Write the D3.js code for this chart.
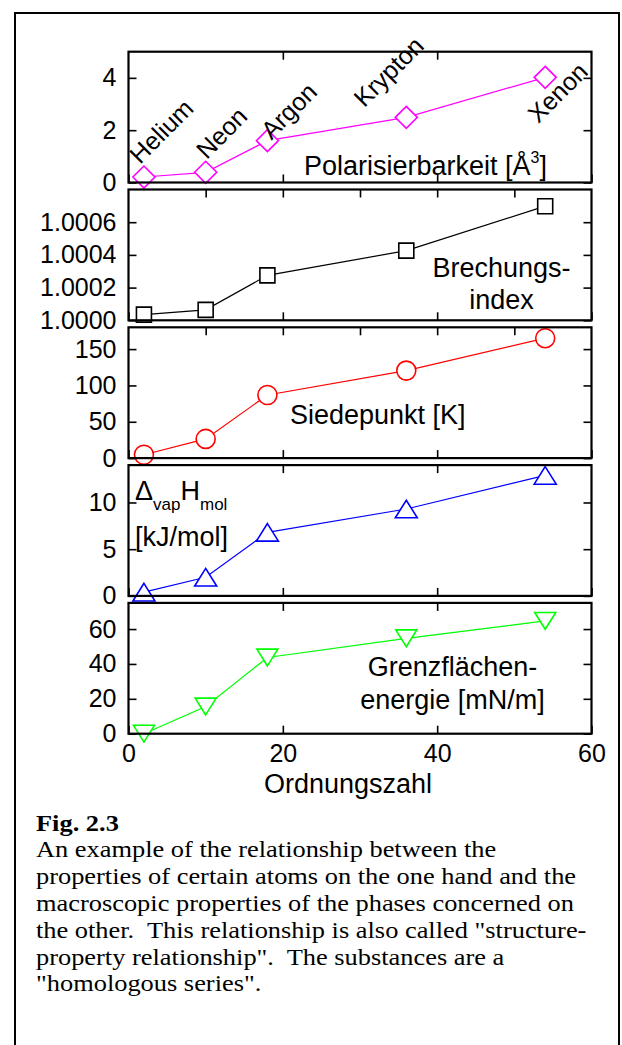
<!DOCTYPE html>
<html>
<head>
<meta charset="utf-8">
<script src="https://cdn.jsdelivr.net/npm/d3@7"></script>
<style>
  body { margin: 0; background: #fff; }
  svg text { font-family: "Liberation Sans", Arial, sans-serif; }
  .tick text { font-size: 25px; fill: #000; }
  .tick line { stroke: #000; stroke-width: 1.6px; }
  .caption { font-family: "Liberation Serif", "Times New Roman", serif !important; font-size: 24px; }
</style>
</head>
<body>
<div id="chart"></div>
<script>

/* noble gases vs. atomic number, five stacked panels */

// data

var elements = ["Helium", "Neon", "Argon", "Krypton", "Xenon"];
var ordnungszahl = [2, 10, 18, 36, 54];
var polarisierbarkeit = [0.21, 0.39, 1.6, 2.49, 4.02];
var brechungsindex = [1.000035, 1.000064, 1.000275, 1.000426, 1.000698];
var siedepunkt = [4.6, 26.4, 86.8, 120.4, 165];
var verdampfung = [0.4, 2.0, 6.8, 9.3, 12.9];
var grenzflaeche = [0, 15.6, 43.7, 54.7, 64.7];

var xTicks = [0, 20, 40, 60];

// layout

var width = 622,
    height = 1045,
    marginLeft = 128.5,
    plotRight = 591.5,
    firstTop = 51.7,
    panelHeight = 130.8,
    panelStep = 137.8,
    tickLen = 8;

var svg = d3.select("#chart")
  .append("svg")
    .attr("width", width)
    .attr("height", height);

// outer frame (open below the picture edge)

svg.append("rect")
  .attr("x", 15)
  .attr("y", 13)
  .attr("width", 604)
  .attr("height", 1100)
  .attr("fill", "none")
  .attr("stroke", "#000")
  .attr("stroke-width", 2);

var xScale = d3.scaleLinear().domain([0, 60]).range([marginLeft, plotRight]);

// marker shapes

function diamond(s) { return "M0," + (-s) + "L" + s + ",0L0," + s + "L" + (-s) + ",0Z"; }
function square(s) { return "M" + (-s) + "," + (-s) + "h" + (2 * s) + "v" + (2 * s) + "h" + (-2 * s) + "Z"; }
function circle(s) { return "M" + s + ",0A" + s + "," + s + " 0 1,1 " + (-s) + ",0A" + s + "," + s + " 0 1,1 " + s + ",0Z"; }
function triUp(s) { return "M0," + (-s * 0.8) + "L" + s + "," + (s * 0.8) + "L" + (-s) + "," + (s * 0.8) + "Z"; }
function triDown(s) { return "M0," + (s * 0.8) + "L" + s + "," + (-s * 0.8) + "L" + (-s) + "," + (-s * 0.8) + "Z"; }

var panels = [
  { values: polarisierbarkeit, domain: [0, 5], ticks: [0, 2, 4], fmt: d3.format("d"),
    color: "#ff00ff", shape: diamond, size: 11, topTicks: [20, 40] },
  { values: brechungsindex, domain: [1, 1.0008], ticks: [1, 1.0002, 1.0004, 1.0006], fmt: d3.format(".4f"),
    color: "#000000", shape: square, size: 7.5, topTicks: [10, 20, 30, 40, 50] },
  { values: siedepunkt, domain: [0, 180], ticks: [0, 50, 100, 150], fmt: d3.format("d"),
    color: "#ff0000", shape: circle, size: 9.5, topTicks: [10, 20, 30, 40, 50] },
  { values: verdampfung, domain: [0, 14], ticks: [0, 5, 10], fmt: d3.format("d"),
    color: "#0000ff", shape: triUp, size: 11, topTicks: [20, 40] },
  { values: grenzflaeche, domain: [0, 75], ticks: [0, 20, 40, 60], fmt: d3.format("d"),
    color: "#00ff00", shape: triDown, size: 10.5, topTicks: [20, 40] }
];

panels.forEach(function(p, i) {

  var top = firstTop + i * panelStep,
      bottom = top + panelHeight;

  var yScale = d3.scaleLinear().domain(p.domain).range([bottom, top]);
  p.yScale = yScale;

  var g = svg.append("g").attr("class", "panel");

  // white box

  g.append("rect")
    .attr("x", marginLeft)
    .attr("y", top)
    .attr("width", plotRight - marginLeft)
    .attr("height", panelHeight)
    .attr("fill", "#fff");

  // axes, ticks pointing inward

  g.append("g")
    .attr("transform", "translate(" + marginLeft + ",0)")
    .call(d3.axisLeft(yScale).tickValues(p.ticks).tickFormat(p.fmt).tickSize(-tickLen).tickPadding(12))
    .call(function(a) { a.select(".domain").remove(); });

  g.append("g")
    .attr("transform", "translate(" + plotRight + ",0)")
    .call(d3.axisRight(yScale).tickValues(p.ticks).tickFormat("").tickSize(-tickLen))
    .call(function(a) { a.select(".domain").remove(); });

  g.append("g")
    .attr("transform", "translate(0," + top + ")")
    .call(d3.axisTop(xScale).tickValues(p.topTicks).tickFormat("").tickSize(-tickLen))
    .call(function(a) { a.select(".domain").remove(); });

  var xAxis = d3.axisBottom(xScale).tickValues(xTicks).tickSize(-tickLen).tickPadding(11);
  if (i < panels.length - 1) xAxis.tickFormat("");

  g.append("g")
    .attr("transform", "translate(0," + bottom + ")")
    .call(xAxis)
    .call(function(a) { a.select(".domain").remove(); });

  // line and markers

  var pts = ordnungszahl.map(function(z, j) { return [xScale(z), yScale(p.values[j])]; });

  g.append("path")
    .attr("d", d3.line()(pts))
    .attr("fill", "none")
    .attr("stroke", p.color)
    .attr("stroke-width", 1.2);

  g.selectAll(".marker")
    .data(pts)
    .enter()
    .append("path")
      .attr("class", "marker")
      .attr("transform", function(d) { return "translate(" + d[0] + "," + d[1] + ")"; })
      .attr("d", p.shape(p.size))
      .attr("fill", "#fff")
      .attr("stroke", p.color)
      .attr("stroke-width", 1.6);

  // frame

  g.append("rect")
    .attr("x", marginLeft)
    .attr("y", top)
    .attr("width", plotRight - marginLeft)
    .attr("height", panelHeight)
    .attr("fill", "none")
    .attr("stroke", "#000")
    .attr("stroke-width", 2.2);
});

// element names in the top panel

var nameOffsets = [[-4, -12], [1, -12], [4, 0], [-42, -9], [-7, 47]];

svg.selectAll(".element")
  .data(elements)
  .enter()
  .append("text")
    .attr("class", "element")
    .attr("transform", function(d, i) {
      var x = xScale(ordnungszahl[i]) + nameOffsets[i][0],
          y = panels[0].yScale(polarisierbarkeit[i]) + nameOffsets[i][1];
      return "translate(" + x + "," + y + ") rotate(-45)";
    })
    .style("font-size", "25px")
    .text(function(d) { return d; });

// panel titles

function label(x, y, anchor) {
  return svg.append("text")
    .attr("x", x)
    .attr("y", y)
    .attr("text-anchor", anchor || "start")
    .style("font-size", "27px");
}

var pol = label(304, 175);
pol.append("tspan").text("Polarisierbarkeit [Å");
pol.append("tspan").attr("dy", -12).style("font-size", "16px").text("3");
pol.append("tspan").attr("dy", 12).text("]");

label(501.5, 277, "middle").text("Brechungs-");
label(501.5, 309, "middle").text("index");

label(290, 424).text("Siedepunkt [K]");

var dh = label(135, 499.5);
dh.append("tspan").text("Δ");
dh.append("tspan").attr("dy", 10).style("font-size", "17px").text("vap");
dh.append("tspan").attr("dy", -10).text("H");
dh.append("tspan").attr("dy", 10).style("font-size", "17px").text("mol");
label(135, 546).text("[kJ/mol]");

label(452.5, 676, "middle").text("Grenzflächen-");
label(452.5, 709, "middle").text("energie [mN/m]");

// x axis title

label(348, 793, "middle").text("Ordnungszahl");

// caption, the reference text is a bit wider than tall

var captionLines = [
  "An example of the relationship between the",
  "properties of certain atoms on the one hand and the",
  "macroscopic properties of the phases concerned on",
  "the other.  This relationship is also called \"structure-",
  "property relationship\".  The substances are a",
  "\"homologous series\"."
];

var caption = svg.append("g")
  .attr("transform", "translate(36,0) scale(1.1,1)");

caption.append("text")
  .attr("class", "caption")
  .attr("x", 0)
  .attr("y", 831)
  .style("font-weight", "bold")
  .text("Fig. 2.3");

caption.selectAll(".captionLine")
  .data(captionLines)
  .enter()
  .append("text")
    .attr("class", "caption")
    .attr("x", 0)
    .attr("y", function(d, i) { return 857.5 + i * 26.8; })
    .attr("xml:space", "preserve")
    .style("white-space", "pre")
    .text(function(d) { return d; });

</script>
</body>
</html>
